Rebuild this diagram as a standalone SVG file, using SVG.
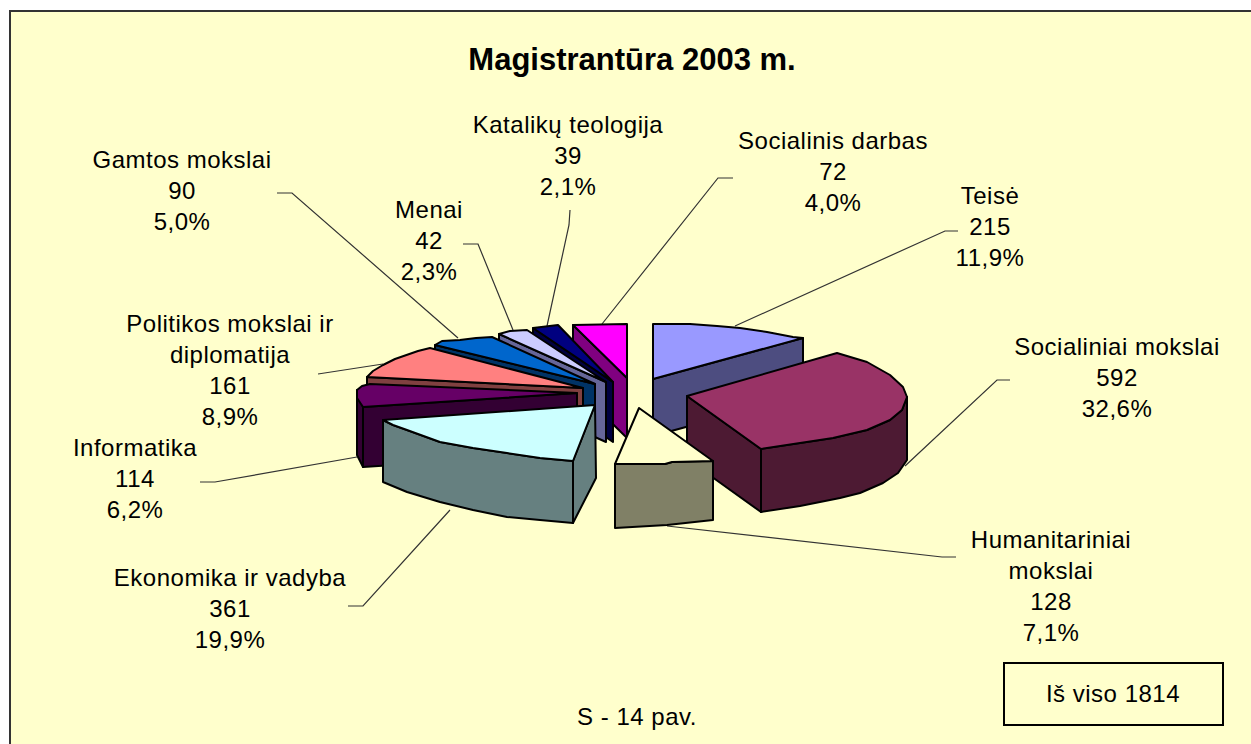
<svg xmlns="http://www.w3.org/2000/svg" width="1251" height="744" viewBox="0 0 1251 744">
<style>
.lbl{font-family:"Liberation Sans",Arial,sans-serif;font-size:24px;letter-spacing:0.5px;fill:#000;text-anchor:middle}
.ttl{font-family:"Liberation Sans",Arial,sans-serif;font-size:31px;font-weight:bold;fill:#000;text-anchor:middle}
.ol{stroke:#000;stroke-width:2;stroke-linejoin:round}
.ld{fill:none;stroke:#333;stroke-width:1.2}
</style>
<rect x="0" y="0" width="1251" height="744" fill="#fff"/>
<rect x="10" y="11" width="1300" height="800" fill="#FFFFCC" stroke="#333" stroke-width="2"/>
<text class="ttl" x="632" y="70">Magistrantūra 2003 m.</text>
<g id="connectors">
<polyline class="ld" points="277,193 292,193 458,338"/>
<polyline class="ld" points="463,244 478,244 513,330"/>
<polyline class="ld" points="570,210 569,225 547,326"/>
<polyline class="ld" points="733,178 718,178 602,324"/>
<polyline class="ld" points="958,231 945,231 735,326"/>
<polyline class="ld" points="1010,380 997,380 905,466"/>
<polyline class="ld" points="667,526 942,557 956,557"/>
<polyline class="ld" points="348,606 363,606 450,510"/>
<polyline class="ld" points="200,482 215,482 357,457"/>
<polyline class="ld" points="318,374 383,364"/>
</g>
<g id="socialinis-darbas">
<path class="ol" fill="#800080" d="M573,325 L627,378 L627,438 L573,385 Z"/>
<path class="ol" fill="#FF00FF" d="M573,325 L627,324 L627,378 Z"/>
<text class="lbl" x="833" y="149">Socialinis darbas</text>
<text class="lbl" x="833" y="180">72</text>
<text class="lbl" x="833" y="211">4,0%</text>
</g>
<g id="kataliku-teologija">
<path class="ol" fill="#000040" d="M533,328 L613,382 L613,442 L533,388 Z"/>
<path class="ol" fill="#000080" d="M533,328 L558,325 L613,382 Z"/>
<text class="lbl" x="568" y="133">Katalikų teologija</text>
<text class="lbl" x="568" y="164">39</text>
<text class="lbl" x="568" y="195">2,1%</text>
</g>
<g id="menai">
<path class="ol" fill="#666699" d="M499,334 L606,382 L606,442 L499,394 Z"/>
<path class="ol" fill="#CCCCFF" d="M499,334 L510,331 L527,330 L606,382 Z"/>
<text class="lbl" x="429" y="218">Menai</text>
<text class="lbl" x="429" y="249">42</text>
<text class="lbl" x="429" y="280">2,3%</text>
</g>
<g id="gamtos-mokslai">
<path class="ol" fill="#003366" d="M435,345 L595,384 L595,444 L435,405 Z"/>
<path class="ol" fill="#0066CC" d="M435,345 L442,341 L460,340 L476,338 L492,337 L595,384 Z"/>
<text class="lbl" x="182" y="168">Gamtos mokslai</text>
<text class="lbl" x="182" y="199">90</text>
<text class="lbl" x="182" y="230">5,0%</text>
</g>
<g id="politikos-mokslai">
<path class="ol" fill="#804040" d="M367,377 L583,388 L583,448 L367,437 Z"/>
<path class="ol" fill="#FF8080" d="M367,377 L373,371 L383,365 L395,359 L418,351 L430,348 L583,388 Z"/>
<text class="lbl" x="230" y="332">Politikos mokslai ir</text>
<text class="lbl" x="230" y="363">diplomatija</text>
<text class="lbl" x="230" y="394">161</text>
<text class="lbl" x="230" y="425">8,9%</text>
</g>
<g id="informatika">
<path class="ol" fill="#330033" d="M357,390 L363,407 L363,467 L357,455 Z"/>
<path class="ol" fill="#330033" d="M363,407 L577,393 L577,453 L363,467 Z"/>
<path class="ol" fill="#660066" d="M363,407 L357,398 L357,390 L362,386 L370,384 L577,393 Z"/>
<text class="lbl" x="135" y="456">Informatika</text>
<text class="lbl" x="135" y="487">114</text>
<text class="lbl" x="135" y="518">6,2%</text>
</g>
<g id="ekonomika-ir-vadyba">
<path class="ol" fill="#668080" d="M573,461 L595,405 L596,478 L573,523 Z"/>
<path class="ol" fill="#668080" d="M383,420 L393,425 L407,430 L440,442 L473,448 L507,453 L540,458 L573,461 L573,523 L540,520 L507,517 L473,510 L440,502 L407,492 L383,482 Z"/>
<path class="ol" fill="#CCFFFF" d="M595,405 L383,420 L393,425 L407,430 L440,442 L473,448 L507,453 L540,458 L573,461 Z"/>
<text class="lbl" x="230" y="586">Ekonomika ir vadyba</text>
<text class="lbl" x="230" y="617">361</text>
<text class="lbl" x="230" y="648">19,9%</text>
</g>
<g id="teise">
<path class="ol" fill="#4D4D80" d="M653,379 L803,338 L803,395 L653,436 Z"/>
<path class="ol" fill="#9999FF" d="M653,324 L690,324 L717,326 L740,328 L767,332 L793,337 L803,338 L653,379 Z"/>
<text class="lbl" x="990" y="204">Teisė</text>
<text class="lbl" x="990" y="235">215</text>
<text class="lbl" x="990" y="266">11,9%</text>
</g>
<g id="socialiniai-mokslai">
<path class="ol" fill="#4D1A33" d="M687,396 L761,449 L761,512 L687,459 Z"/>
<path class="ol" fill="#4D1A33" d="M761,449 L800,443 L833,438 L867,430 L890,420 L902,410 L907,397 L907,460 L898,473 L883,483 L860,493 L840,498 L800,506 L761,512 Z"/>
<path class="ol" fill="#993366" d="M687,396 L837,353 L867,362 L890,375 L903,387 L907,397 L902,410 L890,420 L867,430 L833,438 L800,443 L761,449 Z"/>
<text class="lbl" x="1117" y="355">Socialiniai mokslai</text>
<text class="lbl" x="1117" y="386">592</text>
<text class="lbl" x="1117" y="417">32,6%</text>
</g>
<g id="humanitariniai-mokslai">
<path class="ol" fill="#808066" d="M615,464 L665,464 L672,462 L713,461 L713,520 L667,525 L615,528 Z"/>
<path class="ol" fill="#FFFFCC" d="M639,408 L713,461 L672,462 L665,464 L615,464 Z"/>
<text class="lbl" x="1051" y="548">Humanitariniai</text>
<text class="lbl" x="1051" y="579">mokslai</text>
<text class="lbl" x="1051" y="610">128</text>
<text class="lbl" x="1051" y="641">7,1%</text>
</g>
<g id="total">
<rect x="1004" y="663" width="219" height="62" fill="none" stroke="#000" stroke-width="2"/>
<text class="lbl" x="1113" y="702">Iš viso 1814</text>
</g>
<text class="lbl" x="637" y="725">S - 14 pav.</text>
</svg>
